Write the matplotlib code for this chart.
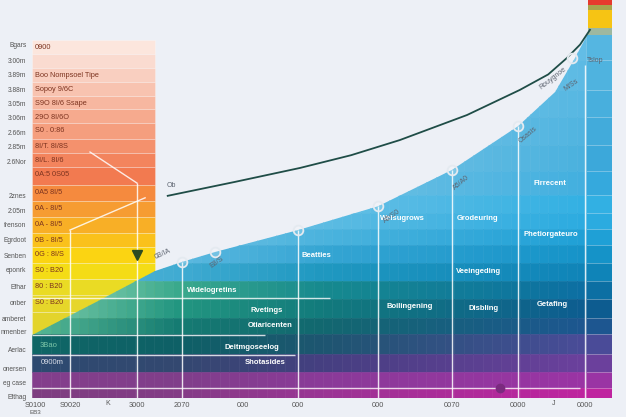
import numpy as np
import matplotlib
matplotlib.use("Agg")
import matplotlib.pyplot as plt
from matplotlib.colors import to_rgb

plt.rcParams['font.family'] = ['Liberation Sans', 'DejaVu Sans']

# ---- data (x: 0..10 across, y: level 0..100) ----
y_labels = ['Bgars', '3:00m', '3.89m', '3.88m', '3.05m', '3:06m', '2.66m', '2.85m',
            '2.6Nor', '2znes', '2:05m', 'frenson', 'Egrdoot', 'Senben', 'eponrk',
            'Efhar', 'onber', 'amberet', 'nmenber', 'Aerlac', 'onersen', 'eg case', 'Efthag']
y_levels = [88.7, 84.7, 81.2, 77.6, 74.1, 70.6, 66.8, 63.3, 59.5, 51.0, 47.2, 43.5,
            39.7, 35.9, 32.2, 28.1, 23.9, 20.1, 16.6, 12.1, 7.5, 3.8, 0.3]

x_labels = ['S0100', 'S0020', '3000', '2070', '000', '000', '000', '0070', '0000', '0000']
x_values = [0.05, 0.655, 1.81, 2.59, 3.64, 4.59, 5.97, 7.24, 8.38, 9.53]

# upper edge of the filled area
curve_x = [0, 1.17, 2.12, 2.59, 3.16, 4.59, 5.97, 7.24, 8.38, 9.02, 9.36, 9.62]
curve_y = [15.8, 24.6, 31.9, 34.2, 36.7, 42.2, 48.2, 57.3, 68.3, 76.9, 85.4, 92.5]

# dark trend line
trend_x = [2.34, 3.5, 4.62, 5.5, 6.34, 7.5, 8.41, 8.9, 9.22, 9.45, 9.62]
trend_y = [50.8, 54.3, 57.8, 61.0, 64.8, 71.1, 77.4, 81.3, 85.4, 88.8, 92.5]

# horizontal bands under the curve (edges, top to bottom)
band_edges = [100, 85, 77.5, 70.5, 63.5, 57, 51, 46.5, 42.5, 38.5, 34, 29.5,
              25, 20, 16, 11, 6.5, 2.5, 0]

# left stacked column
column_edges = [90, 86.5, 83, 79.5, 76, 72.5, 69, 65, 61.5, 58, 53.5, 49.5,
                45.5, 41.5, 38, 34, 30, 26, 21.5, 15.5]
column_notes = ['0900', '', 'Boo Nompsoel Tipe', 'Sopoy 9/6C', 'S9O 8I/6 Ssape',
                '29O 8I/6O', 'S0 . 0:86', '8I/T. 8I/8S', '8I/L. 8I/6', '0A:5 0S05',
                '0A5 8I/5', '0A - 8I/5', '0A - 8I/5', '0B - 8I/5', '0G : 8I/S',
                'S0 : B20', '80 : B20', 'S0 : B20', '']

# right column caps
cap_edges = [100, 98.7, 97.5, 93, 91.2]

# dividers and markers
divider_x = [0.655, 1.81, 2.59, 4.59, 5.97, 7.24, 8.38, 9.53]
divider_top = [42.2, 54.0, 34.2, 42.2, 48.2, 57.3, 68.3, 83.7]
rule_y = [25.1, 15.8, 10.8, 2.5]
rule_end = [5.14, 4.02, 4.53, 9.45]
marker_x = [2.59, 3.16, 4.59, 5.97, 7.24, 8.38, 9.31]
marker_y = [34.2, 36.7, 42.2, 48.2, 57.3, 68.3, 85.4]

band_notes = [('Beatties', 4.91, 35.9), ('Widelogretins', 3.10, 27.1),
              ('Rvetings', 4.05, 22.1), ('Otiaricenten', 4.10, 18.1),
              ('Deitmgoseelog', 3.79, 12.6), ('Shotasides', 4.02, 9.0),
              ('Weisugrows', 6.38, 45.0), ('Grodeuring', 7.69, 45.0),
              ('Firrecent', 8.93, 54.0), ('Phetiorgateuro', 8.95, 41.2),
              ('Veeingeding', 7.69, 31.7), ('Boilingening', 6.52, 22.9),
              ('Disbling', 7.79, 22.6), ('Getafing', 8.97, 23.6)]
curve_notes = [('Ob', 2.4, 53.5, 0), ('0B/IA', 2.26, 36.2, 25), ('E8/S', 3.19, 34.0, 35),
               ('A5/S0', 6.21, 45.6, 35), ('A5/A0', 7.4, 54.2, 40), ('Osasis', 8.55, 66.0, 40),
               ('Rouygnoe', 8.98, 80.4, 38), ('M/Ss', 9.30, 78.6, 35), ('Tslop', 9.71, 84.9, 0)]

# ---- palette ----
bg = '#edf0f6'
stops_x = [0, 2.5, 5, 9.55]
band_colors = [
    ['#8acee9', '#8acee9', '#80c9e8', '#62bde6'],
    ['#88cde9', '#88cde9', '#7ec8e7', '#5cbae4'],
    ['#86cce9', '#86cce9', '#7cc7e6', '#56b7e2'],
    ['#84cbe8', '#84cbe8', '#7ac5e6', '#50b4e0'],
    ['#82cae8', '#82cae8', '#76c4e5', '#4ab1de'],
    ['#88cde9', '#86cce9', '#70c2e4', '#42afdf'],
    ['#86cce9', '#80c9e7', '#66bfe4', '#32b0e3'],
    ['#80c9e7', '#78c5e5', '#5cbbe2', '#2babe0'],
    ['#78c5e5', '#6cc0e3', '#4bb3dd', '#1fa0d6'],
    ['#6cc0e2', '#5cb9e0', '#35a5d3', '#1593c8'],
    ['#5ab5d6', '#40abd2', '#1f98c0', '#0f84b8'],
    ['#9fdabb', '#3aa98c', '#16898e', '#0c6fa3'],
    ['#7fcdaa', '#229680', '#127a7c', '#0d5c90'],
    ['#56b894', '#157b72', '#12676f', '#1d5690'],
    ['#0f6666', '#0e6066', '#1d5570', '#4a4b98'],
    ['#2d4a70', '#334870', '#453f80', '#6b409c'],
    ['#843e8c', '#803e8a', '#8a3a98', '#9a34a4'],
    ['#7d3d80', '#833c86', '#9a3494', '#bf239f'],
]
right_colors = ['#55b6e1', '#4fb3df', '#48afdd', '#42abdb', '#3ca8da', '#35a9dd',
                '#32b0e3', '#2babe0', '#1fa0d6', '#1593c8', '#0f84b8', '#0c6fa3',
                '#0d5c90', '#1d5690', '#4a4b98', '#6b409c', '#9a34a4', '#bf239f']
cap_colors = ['#e63a2e', '#a7a54c', '#f6c414', '#9db8a0']
column_colors = ['#fce6dd', '#fadbd0', '#f9cfc0', '#f8c3b0', '#f7b7a0', '#f6aa8e',
                 '#f59e7e', '#f4916d', '#f3845d', '#f27a50', '#f58a3e', '#f69c32',
                 '#f8af26', '#fac11b', '#fbd412', '#f4dc16', '#eadb24', '#e6d62a', '#e3d42c']

fig = plt.figure(figsize=(6.26, 4.17), dpi=100, facecolor=bg)
ax = fig.add_axes([32 / 626, 19 / 417, 580 / 626, 398 / 417], facecolor=bg)
ax.set_xlim(0, 10)
ax.set_ylim(0, 100)

# clip shape: area under the curve
area = ax.fill(curve_x + [curve_x[-1], 10, 10, 0], curve_y + [100, 100, 0, 0],
               facecolor='none', edgecolor='none', zorder=0)[0]

# left column
col_top = np.array(column_edges[:-1])
col_bot = np.array(column_edges[1:])
ax.barh(col_bot, 2.12, left=0, height=col_top - col_bot, align='edge',
        color=column_colors, edgecolor=(1, 1, 1, 0.35), linewidth=0.5, zorder=1)
for note, top, bot in zip(column_notes, col_top, col_bot):
    if note:
        ax.text(0.05, top - 1.9, note, fontsize=5.3, color='#7d3420', va='center', zorder=3)

# gradient bands under the curve
xs = np.linspace(0, 9.55, 60)
mids = (xs[:-1] + xs[1:]) / 2
for top, bot, cols in zip(band_edges[:-1], band_edges[1:], band_colors):
    rgb = np.array([to_rgb(c) for c in cols])
    seg = [tuple(np.interp(m, stops_x, rgb[:, k]) for k in range(3)) for m in mids]
    bars = ax.barh(bot, np.diff(xs), left=xs[:-1], height=top - bot, align='edge',
                   color=seg, edgecolor=seg, linewidth=0.4, zorder=2)
    for b in bars:
        b.set_clip_path(area)

bt = np.array(band_edges[:-1])
bb = np.array(band_edges[1:])
bars = ax.barh(bb, 0.45, left=9.55, height=bt - bb, align='edge', color=right_colors,
               edgecolor=(1, 1, 1, 0.15), linewidth=0.4, zorder=2.2)
for b in bars:
    b.set_clip_path(area)
ct = np.array(cap_edges[:-1])
cb = np.array(cap_edges[1:])
ax.barh(cb, 0.41, left=9.59, height=ct - cb, align='edge', color=cap_colors,
        edgecolor='none', zorder=2.3)

# white guide lines
ax.vlines(divider_x, 0, divider_top, color='white', linewidth=1.0, alpha=0.85, zorder=4)
ax.hlines(rule_y, 0, rule_end, color='white', linewidth=1.0, alpha=0.8, zorder=4)
ax.plot([1.0, 1.81], [61.8, 54.0], color='white', linewidth=1.0, alpha=0.85, zorder=4)
ax.plot([1.95, 0.655], [50.3, 42.2], color='white', linewidth=1.0, alpha=0.85, zorder=4)

ax.plot(trend_x, trend_y, color='#1f4d47', linewidth=1.3, zorder=5)
ax.plot(marker_x, marker_y, 'o', ms=7, mfc=(1, 1, 1, 0.2), mec='#e4eaf0', mew=1.3, zorder=6)
ax.plot([1.81], [35.9], 'v', color='#2d4b22', ms=7, zorder=6)
ax.plot([8.07], [2.5], 'o', color='#7b2a7f', ms=6, zorder=6)

for note, x, y in band_notes:
    ax.text(x, y, note, fontsize=5.5, color='white', fontweight='bold',
            ha='center', va='center', zorder=7)
ax.text(0.28, 13.3, '3Bao', fontsize=5.5, color='#7cc6a8', ha='center', va='center', zorder=7)
ax.text(0.34, 8.8, '0900m', fontsize=5.5, color='#d8dde8', ha='center', va='center', zorder=7)
for note, x, y, rot in curve_notes:
    ax.text(x, y, note, fontsize=5, color='#5d6470', rotation=rot,
            ha='center', va='center', zorder=7)
ax.text(1.3, -1.3, 'K', fontsize=5, color='#555', ha='center', va='center', clip_on=False)
ax.text(9.0, -1.5, 'J', fontsize=5, color='#555', ha='center', va='center', clip_on=False)
ax.text(0.05, -3.6, 'EB3', fontsize=4.5, color='#555', ha='center', va='center', clip_on=False)

ax.set_yticks(y_levels)
ax.set_yticklabels(y_labels, fontsize=4.8)
ax.set_xticks(x_values)
ax.set_xticklabels(x_labels, fontsize=5.3)
ax.tick_params(length=0, labelcolor='#555555')
ax.tick_params(axis='y', pad=4)
ax.tick_params(axis='x', pad=3)
for s in ax.spines.values():
    s.set_visible(False)

fig.savefig('out.png', dpi=100, facecolor=bg)
